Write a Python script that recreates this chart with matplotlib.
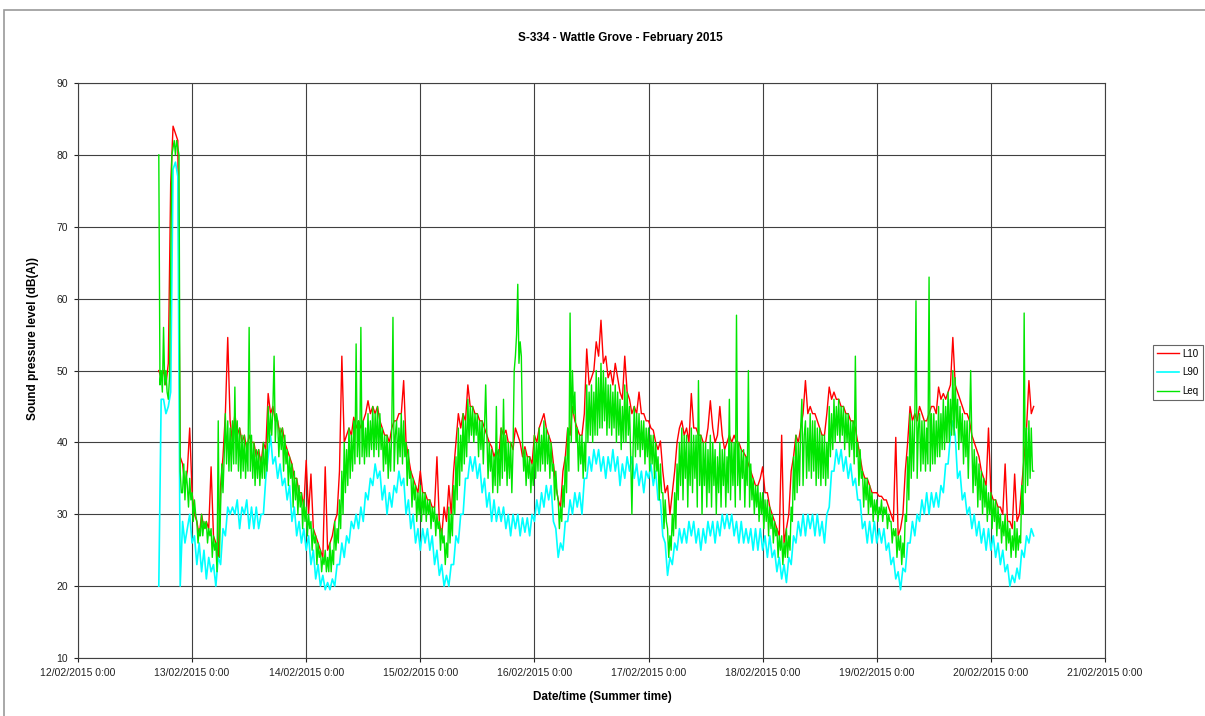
import numpy as np
import pandas as pd
import matplotlib
matplotlib.use("Agg")
import matplotlib.pyplot as plt
from matplotlib.patches import Rectangle
from matplotlib.ticker import FuncFormatter
import matplotlib.dates as mdates

plt.rcParams['font.family'] = ['Liberation Sans', 'DejaVu Sans']

title = "S-334 - Wattle Grove - February 2015"
series_names = ["L10", "L90", "Leq"]
series_colors = ["#ff0000", "#00ffff", "#00e600"]

# half-hourly L10, 12/02 17:00 -> 20/02 09:00
l10 = [50, 49, 50, 48, 51, 76, 84, 83, 82, 38, 37, 34, 36, 42, 33, 30,
       29, 27, 30, 28, 29, 28, 36.6, 27, 26, 24, 34, 38, 44, 54.6, 43, 40,
       44, 41, 42, 40, 41, 39, 41, 40, 40, 38, 39, 37, 40, 39, 46.8, 44,
       45, 43, 43, 41, 42, 40, 39, 38, 37, 35, 35, 33, 33, 31, 37.5, 30,
       35.6, 28, 27, 26, 25, 24, 36.6, 25, 26, 27, 29, 30, 36, 52, 40, 41,
       42, 41, 43.5, 42, 43, 42, 43, 44, 45.8, 44, 45, 44, 45, 43, 42, 41,
       41, 40, 42, 43, 43, 44, 44, 48.6, 40, 38, 36, 35, 34, 33, 36, 33,
       33, 32, 32, 31, 31, 38, 29, 27, 31, 29, 34, 30, 36, 40, 44, 42,
       44, 43, 48, 45, 45, 44, 44, 43, 43, 42, 41, 40, 39.4, 38, 39, 38,
       42, 41, 41.7, 40, 40, 39, 42, 41, 40, 38, 39.4, 38, 38, 37, 41, 40,
       42, 43, 44, 42, 41, 40, 37, 34, 32, 31, 36, 38, 42, 41, 45, 43,
       42, 41, 41, 44, 53, 48, 49, 50, 54, 52, 57, 51, 52, 49, 50, 48,
       51, 49, 47, 46, 52, 47, 46, 44, 45, 44, 47, 44, 44, 43, 43, 42,
       41.7, 40, 39, 40.2, 36, 33, 34, 30, 33, 36, 40, 42, 43, 41, 42, 40,
       46.8, 42, 42, 41, 41, 40, 40, 42, 45.8, 42, 40, 41, 45, 41, 39, 40,
       41, 40, 41, 40, 40, 39, 38.6, 38, 37, 36, 35, 34, 34, 35, 36.6, 33,
       33, 31, 30, 29, 28, 27, 41, 26, 28, 30, 36, 38, 41, 40, 42, 44,
       48.6, 44, 45, 44, 44, 43, 42, 41, 41, 44, 47.7, 46, 47, 46, 46, 45,
       45, 44, 44, 43, 43, 42, 40, 38, 36, 35, 35, 34, 33, 33, 33, 32.5,
       32.5, 32, 32, 31, 30, 29, 40.7, 27, 28, 30, 36, 40, 45, 43, 44, 43,
       45, 44, 43, 43, 44, 45, 45, 44, 47.7, 46, 46.8, 46, 47, 48, 54.6, 48,
       47, 46, 45, 44, 44, 43, 41, 40, 39, 38, 36, 35, 34, 42, 33, 32,
       32, 31, 31, 30, 37, 29, 29, 28, 35.6, 29, 30, 34, 38, 42, 48.6, 44,
       45]

# half-hourly L90
l90 = [20, 46, 46, 44, 45, 47, 78, 79, 77, 20, 29, 26, 28, 30, 26, 27,
       23, 26, 22, 25, 21, 24, 22, 23, 20, 24, 23, 28, 27, 31, 30, 31,
       30, 32, 28, 31, 30, 32, 28, 31, 28, 31, 28, 30, 30, 35, 38, 41,
       37, 38, 35, 37, 34, 35, 32, 34, 29, 31, 27, 29, 26, 28, 25, 27,
       23, 25, 21, 23, 20, 21.5, 19.5, 20.5, 19.5, 21, 20, 23, 23, 26, 24, 27,
       26, 29, 28, 30, 28, 31, 29, 33, 32, 35, 34, 37, 35, 36, 32, 34,
       30, 33, 31, 34, 33, 36, 34, 35, 30, 32, 28, 30, 26, 28, 25, 28,
       26, 28, 25, 27, 23, 25, 21.5, 23, 20, 21.5, 20, 23, 23, 27, 26, 30,
       30, 35, 35, 38, 36, 38, 35, 37, 33, 35, 31, 33, 29, 32, 29, 31,
       29, 31, 28, 30, 27, 30, 28, 30, 27, 29.5, 27.5, 29.5, 27, 30, 29, 32,
       30, 33, 31, 34, 32, 34, 29, 28, 24, 26, 25, 29, 29, 32, 30, 33,
       31, 33, 30, 35, 35, 38, 36, 39, 37, 39, 36, 38, 35, 38, 36, 39,
       36, 38, 34, 37, 35, 38, 36, 38, 35, 37, 34, 36, 33, 36, 35, 37,
       34, 36, 32, 32, 27, 26, 21.5, 24, 23, 26, 25, 28, 26, 28, 26, 29,
       27, 29, 26, 28, 25, 28, 26, 29, 27, 29, 26, 29, 27, 30, 28, 30,
       28, 30, 27, 29, 26, 29, 26, 28, 26, 28, 25, 28, 25, 28, 25, 27,
       24, 27, 24, 25, 22, 24, 21, 23, 20.5, 24, 23, 27, 26, 29, 27, 30,
       27, 30, 28, 30, 27, 30, 27, 29, 26, 30, 31, 36, 36, 39, 37, 39,
       36, 38, 35, 37, 34, 35, 32, 32, 28, 29, 26, 29, 26, 29, 26, 28,
       26, 28, 25, 26, 23, 24, 21, 22, 19.5, 22.5, 22, 26, 26, 29, 27, 30,
       29, 32, 30, 33, 30, 33, 31, 33, 31, 34, 33, 37, 37, 41, 43, 41,
       35, 36, 32, 33, 30, 31, 28, 30, 27, 29, 26, 28, 25, 28, 25, 27,
       24, 26, 23, 25, 22, 23, 20, 21.5, 20.5, 22.5, 21, 25, 24, 27, 26, 28,
       27]

# 15-minute Leq
leq = [80, 48, 50, 47, 56, 48, 50, 47, 46, 49, 64, 80, 81, 82, 80, 82,
       81, 80, 36, 33, 33, 37, 32, 36, 34, 31, 35, 32, 33, 29, 32, 30,
       29, 26, 28, 27, 30, 27, 29, 28, 29, 26, 28, 27, 28, 24, 27, 25,
       26, 22, 43, 24, 31, 37, 33, 38, 44, 37, 43, 36, 42, 36, 43, 37,
       47.7, 37, 43, 36, 42, 35, 41, 36, 41, 35, 40, 36, 56, 36, 41, 35,
       40, 34, 39, 35, 39, 34, 38, 35, 40, 35, 39, 36, 45, 40, 44, 41,
       45, 52, 40, 44, 43, 38, 42, 39, 42, 36, 41, 37, 39, 34, 38, 35,
       37, 31, 36, 32, 35, 30, 34, 31, 33, 28, 32, 29, 31, 27, 30, 28,
       29, 25, 28, 26, 27, 23, 26, 24, 25, 22, 24, 23, 25, 22, 24, 22,
       26, 22, 25, 23, 29, 25, 28, 26, 32, 28, 36, 30, 40, 33, 39, 34,
       42, 35, 41, 36, 43, 37, 53.7, 38, 43, 37, 56, 38, 43, 37, 42, 38,
       44, 38, 43, 39, 45, 38, 44, 39, 45, 38, 44, 39, 42, 36, 41, 37,
       41, 35, 40, 36, 42, 57.4, 36, 41, 43, 37, 42, 38, 44, 37, 43, 38,
       40, 34, 39, 35, 36, 31, 35, 32, 34, 29, 33, 30, 34, 29, 33, 30,
       33, 29, 32, 30, 32, 28, 31, 29, 31, 27, 30, 28, 29, 25, 28, 26,
       27, 23, 26, 24, 31, 26, 30, 27, 34, 30, 38, 32, 42, 34, 41, 36,
       44, 37, 43, 38, 46, 40, 45, 41, 45, 40, 44, 41, 44, 38, 43, 39,
       43, 37, 42, 48, 41, 35, 40, 36, 39, 33, 38, 34, 45, 33, 39, 34,
       42, 35, 46, 36, 41, 34, 40, 35, 40, 33, 39, 50, 52, 55, 62, 51,
       54, 52, 40, 36, 39, 34, 38, 35, 38, 33, 37, 34, 41, 35, 40, 36,
       42, 36, 41, 37, 43, 36, 42, 37, 41, 35, 40, 36, 37, 32, 36, 33,
       32, 28, 31, 29, 34, 31, 38, 33, 42, 36, 58, 40, 50, 44, 47, 40,
       42, 36, 41, 37, 41, 35, 40, 36, 48, 40, 47, 41, 48, 40, 47, 41,
       50, 41, 49, 42, 51, 42, 50, 43, 49, 41, 48, 42, 48, 41, 47, 42,
       48, 40, 47, 41, 46, 39, 45, 40, 48, 40, 47, 41, 45, 38, 30, 39,
       45, 38, 44, 39, 44, 38, 43, 39, 43, 37, 42, 38, 42, 36, 41, 37,
       41, 35, 40, 36, 38, 32, 37, 33, 33, 28, 32, 29, 28, 24, 27, 25,
       30, 27, 33, 28, 37, 32, 40, 34, 42, 32, 41, 35, 41, 31, 40, 34,
       42, 33, 41, 35, 41, 31, 48.6, 34, 41, 30, 40, 34, 40, 31, 39, 33,
       41, 31, 40, 34, 39, 30, 38, 33, 40, 31, 39, 34, 39, 31, 38, 33,
       46, 32, 40, 34, 40, 31, 57.7, 34, 40, 32, 39, 35, 39, 31, 38, 34,
       50, 31, 37, 32, 35, 30, 34, 31, 34, 29, 33, 30, 33, 28, 32, 29,
       32, 27, 31, 28, 30, 26, 29, 27, 28, 24, 27, 25, 27, 23, 26, 24,
       28, 24, 27, 25, 31, 29, 38, 32, 41, 33, 40, 34, 42, 46, 34, 41,
       43, 35, 42, 36, 44, 35, 43, 36, 43, 34, 42, 35, 42, 34, 41, 35,
       41, 34, 40, 35, 45, 38, 44, 39, 46, 40, 45, 41, 46, 40, 45, 41,
       45, 39, 44, 40, 44, 38, 43, 39, 43, 37, 52, 38, 40, 34, 39, 35,
       36, 31, 35, 32, 35, 30, 34, 31, 33, 29, 32, 30, 32, 29, 31, 30,
       32, 29, 31, 30, 31, 28, 30, 29, 29, 26, 28, 27, 28, 24, 27, 25,
       27, 23, 26, 24, 30, 29, 38, 32, 44, 35, 43, 36, 43, 59.7, 35, 42,
       44, 36, 43, 37, 43, 36, 42, 37, 63, 36, 44, 37, 44, 37, 43, 38,
       45, 38, 44, 39, 46, 39, 45, 40, 47, 40, 46, 41, 50, 41, 49, 42,
       46, 39, 45, 40, 44, 37, 43, 38, 43, 35, 42, 50, 40, 33, 39, 34,
       38, 31, 37, 32, 36, 30, 35, 31, 34, 29, 33, 30, 33, 28, 32, 29,
       32, 27, 31, 28, 30, 26, 29, 27, 30, 25, 29, 26, 28, 24, 27, 25,
       29, 24, 28, 25, 27, 26, 34, 30, 58, 33, 42, 34, 43, 35, 42, 36,
       36]

start = pd.Timestamp("2015-02-12 17:00")
t_l10 = start + pd.to_timedelta(np.arange(len(l10)) * 30, unit="min")
t_l90 = start + pd.to_timedelta(np.arange(len(l90)) * 30, unit="min")
t_leq = start + pd.to_timedelta(np.arange(len(leq)) * 15, unit="min")

fig = plt.figure(figsize=(12.05, 7.16), dpi=100)
ax = fig.add_axes([0.0647, 0.081, 0.8523, 0.803])

ax.plot(t_l10, l10, color=series_colors[0], lw=1.0, label=series_names[0])
ax.plot(t_l90, l90, color=series_colors[1], lw=1.2, label=series_names[1])
ax.plot(t_leq, leq, color=series_colors[2], lw=1.0, label=series_names[2])

days = pd.date_range("2015-02-12", "2015-02-21", freq="D")
ax.set_xlim(days[0], days[-1])
ax.set_ylim(10, 90)
ax.set_yticks(range(10, 91, 10))
ax.set_xticks(days)
ax.xaxis.set_major_formatter(FuncFormatter(
    lambda v, p: (lambda d: f"{d.day:02d}/{d.month:02d}/{d.year} {d.hour}:{d.minute:02d}")(mdates.num2date(v))))
ax.grid(True, color="#404040", lw=0.8)
ax.set_axisbelow(True)
for s in ax.spines.values():
    s.set_color("#404040")
    s.set_linewidth(0.8)
ax.tick_params(labelsize=7.5, colors="#222222", length=3, width=0.8, pad=4)

fig.text(0.515, 0.947, title, ha="center", va="center", fontsize=8.5, fontweight="bold")
fig.text(0.027, 0.527, "Sound pressure level (dB(A))", rotation=90, ha="center", va="center",
         fontsize=8.5, fontweight="bold")
fig.text(0.500, 0.027, "Date/time (Summer time)", ha="center", va="center", fontsize=8.5, fontweight="bold")

leg = fig.legend(loc="center left", bbox_to_anchor=(0.953, 0.48), fontsize=7, frameon=True,
                 fancybox=False, handlelength=2.2, borderpad=0.4, labelspacing=0.9, handletextpad=0.4)
leg.get_frame().set_edgecolor("#404040")
leg.get_frame().set_linewidth(0.8)

# outer chart border
fig.patches.append(Rectangle((4 / 1205, -0.05), 1.2, 1 - 10 / 716 + 0.05, transform=fig.transFigure,
                             fill=False, edgecolor="#9a9a9a", lw=1.2))

fig.savefig("out.png", dpi=100)
